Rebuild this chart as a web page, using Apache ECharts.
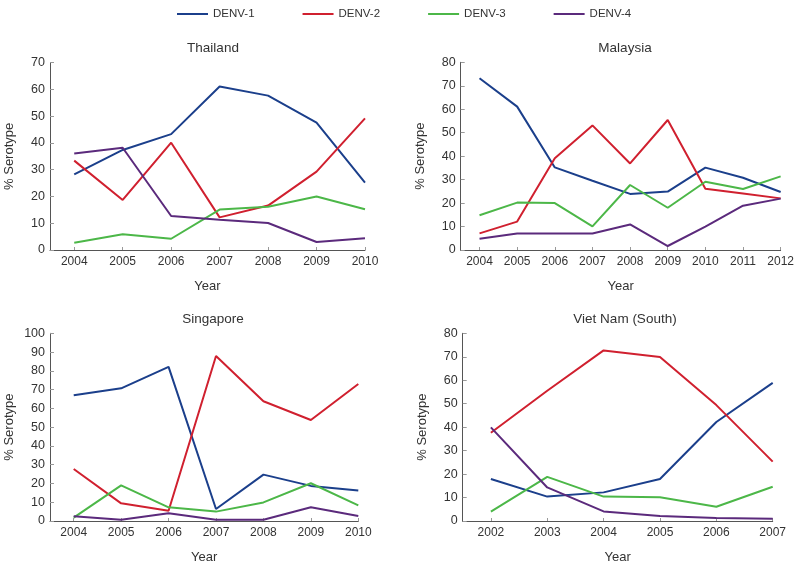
<!DOCTYPE html>
<html>
<head>
<meta charset="utf-8">
<script src="https://cdn.jsdelivr.net/npm/echarts@6/dist/echarts.min.js"></script>
<style>html,body{margin:0;padding:0;background:#fff}#c{width:797px;height:565px}</style>
</head>
<body>
<div id="c"></div>
<script>
const seriesNames = ['DENV-1', 'DENV-2', 'DENV-3', 'DENV-4'];
const seriesColors = ['#1b3f8b', '#d0202f', '#4cb748', '#5b2a7c'];

const thailandYears = [2004, 2005, 2006, 2007, 2008, 2009, 2010];
const thailandD1 = [28.3, 37.4, 43.3, 61.1, 57.7, 47.6, 25.2];
const thailandD2 = [33.4, 18.7, 40.1, 12.2, 16.6, 29.3, 49.2];
const thailandD3 = [2.7, 5.9, 4.2, 15.1, 16.2, 20.0, 15.2];
const thailandD4 = [36.1, 38.2, 12.7, 11.3, 10.1, 3.0, 4.4];

const malaysiaYears = [2004, 2005, 2006, 2007, 2008, 2009, 2010, 2011, 2012];
const malaysiaD1 = [73.2, 61.1, 35.2, 29.5, 23.9, 24.9, 35.1, 30.8, 24.7];
const malaysiaD2 = [7.1, 12.1, 39.1, 53.1, 36.9, 55.4, 26.1, 24.1, 22.0];
const malaysiaD3 = [14.8, 20.2, 20.0, 10.1, 27.7, 18.0, 29.1, 26.0, 31.4];
const malaysiaD4 = [4.8, 7.0, 7.0, 7.0, 10.9, 1.7, 10.0, 18.9, 21.9];

const singaporeYears = [2004, 2005, 2006, 2007, 2008, 2009, 2010];
const singaporeD1 = [67.0, 70.7, 82.1, 6.4, 24.7, 18.7, 16.3];
const singaporeD2 = [27.7, 9.4, 5.5, 87.9, 63.8, 53.8, 73.0];
const singaporeD3 = [1.8, 19.0, 7.3, 5.0, 9.9, 20.1, 8.3];
const singaporeD4 = [2.5, 0.7, 4.1, 0.7, 0.7, 7.3, 2.7];

const vietnamYears = [2002, 2003, 2004, 2005, 2006, 2007];
const vietnamD1 = [17.9, 10.4, 12.2, 17.9, 42.2, 58.9];
const vietnamD2 = [37.6, 55.5, 72.7, 69.9, 49.4, 25.3];
const vietnamD3 = [4.0, 18.8, 10.4, 10.1, 6.1, 14.6];
const vietnamD4 = [39.9, 14.3, 4.1, 2.1, 1.3, 1.0];

const panelTitles = ['Thailand', 'Malaysia', 'Singapore', 'Viet Nam (South)'];
const panelYMax = [70, 80, 100, 80];
const yAxisName = '% Serotype';
const xAxisName = 'Year';

const panels = [
  { years: thailandYears, data: [thailandD1, thailandD2, thailandD3, thailandD4] },
  { years: malaysiaYears, data: [malaysiaD1, malaysiaD2, malaysiaD3, malaysiaD4] },
  { years: singaporeYears, data: [singaporeD1, singaporeD2, singaporeD3, singaporeD4] },
  { years: vietnamYears, data: [vietnamD1, vietnamD2, vietnamD3, vietnamD4] }
];

const FONT = "'Liberation Sans Narrow', 'Arial Narrow', 'Liberation Sans', Arial, sans-serif";
const grids = [
  { left: 50, top: 62.7, width: 315, height: 187.3 },
  { left: 460.7, top: 62.3, width: 321, height: 187.7 },
  { left: 50, top: 333.3, width: 308.3, height: 187.7 },
  { left: 462.7, top: 333.3, width: 310, height: 187.7 }
];
const titlePos = [[208, 36], [620, 36], [208, 307], [620, 307]];

const option = {
  animation: false,
  backgroundColor: '#fff',
  textStyle: { fontFamily: FONT },
  color: seriesColors,
  legend: {
    data: seriesNames,
    left: 172, top: 3,
    icon: 'rect', itemWidth: 31, itemHeight: 2, itemGap: 48,
    textStyle: { fontSize: 11.5, color: '#333', fontFamily: FONT }
  },
  title: panelTitles.map((t, i) => ({
    text: t, left: titlePos[i][0], top: titlePos[i][1], textAlign: 'center',
    textStyle: { fontSize: 13.5, fontWeight: 'normal', color: '#333', fontFamily: FONT }
  })),
  grid: grids,
  xAxis: panels.map((p, i) => ({
    type: 'value', gridIndex: i,
    min: p.years[0] - 0.5, max: p.years[p.years.length - 1],
    name: xAxisName, nameLocation: 'middle', nameGap: 30,
    nameTextStyle: { fontSize: 13, color: '#333', fontFamily: FONT },
    axisLine: { show: true, lineStyle: { color: '#555', width: 1 } },
    axisTick: { show: true, inside: true, length: 3, customValues: p.years, lineStyle: { color: '#999' } },
    axisLabel: { customValues: p.years, fontSize: 12, color: '#333', margin: 6, fontFamily: FONT, formatter: v => String(v) },
    splitLine: { show: false }
  })),
  yAxis: panels.map((p, i) => ({
    type: 'value', gridIndex: i, min: 0, max: panelYMax[i], interval: 10,
    name: yAxisName, nameLocation: 'middle', nameGap: 34,
    nameTextStyle: { fontSize: 13, color: '#333', fontFamily: FONT },
    axisLine: { show: true, lineStyle: { color: '#555', width: 1 } },
    axisTick: { show: true, inside: true, length: 4, lineStyle: { color: '#999' } },
    axisLabel: { fontSize: 12.5, color: '#333', margin: 5, fontFamily: FONT },
    splitLine: { show: false }
  })),
  series: []
};

panels.forEach((p, i) => {
  p.data.forEach((vals, k) => {
    option.series.push({
      type: 'line', name: seriesNames[k], xAxisIndex: i, yAxisIndex: i,
      data: p.years.map((y, j) => [y, vals[j]]),
      symbol: 'none', lineStyle: { width: 2, color: seriesColors[k] },
      itemStyle: { color: seriesColors[k] }
    });
  });
});

const chart = echarts.init(document.getElementById('c'), null, { renderer: 'canvas' });
chart.setOption(option);
</script>
</body>
</html>
